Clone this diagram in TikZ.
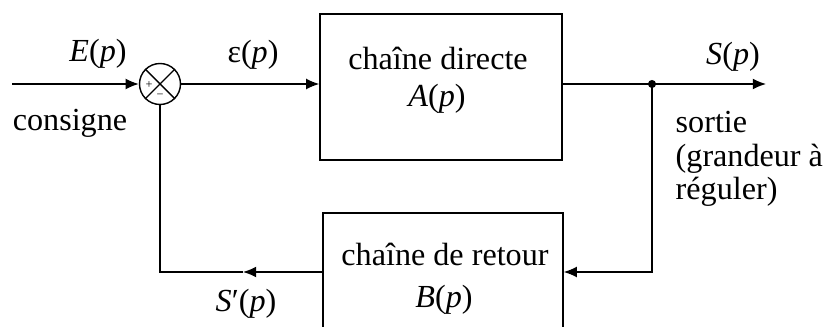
\documentclass[tikz,border=0pt]{standalone}
\usepackage{fontspec}
\setmainfont{Liberation Serif}
\usetikzlibrary{arrows.meta}

\begin{document}
\begin{tikzpicture}[x=0.02cm, y=-0.02cm, >={Latex[length=7.5pt,width=6.2pt]},
  line width=0.8pt,
  every node/.style={font=\fontsize{18.3}{19}\selectfont},
  bloc/.style={draw, inner sep=0pt, minimum width=4.84cm, minimum height=2.92cm},
  lbl/.style={anchor=base, inner sep=0pt},
  lblw/.style={anchor=base west, inner sep=0pt},
  signe/.style={inner sep=0pt, font=\fontsize{7}{7}\selectfont}]
\useasboundingbox (0,0) rectangle (827,327);
\clip (0,0) rectangle (827,327);

% comparateur et blocs
\node[draw, circle, inner sep=0pt, minimum size=0.82cm] (sum) at (160,84) {};
\draw (sum.north west) -- (sum.south east);
\draw (sum.north east) -- (sum.south west);
\node[signe] (plus) at (149,85) {+};
\node[signe] (moins) at (160,96) {−};

\node[bloc] (directe) at (441,87) {};
\node[bloc, minimum width=4.8cm] (retour) at (443,286) {};

\node[lbl] (dirtxt) at (438,70) {chaîne directe};
\node[lbl] (dirA) at (437,107) {\textit{A}(\textit{p})};
\node[lbl] (rettxt) at (445,265) {chaîne de retour};
\node[lbl] (retB) at (444,307) {\textit{B}(\textit{p})};

\coordinate (in) at (12,84);
\coordinate (out) at (766,84);
\coordinate (branch) at (652,84);
\coordinate (fb) at (652,272);
\coordinate (fbl) at (160,272);
\coordinate (tip) at (243,272);

% liaisons
\draw[->] (in) -- (sum.west);
\draw[->] (sum.east) -- (sum.east -| directe.west);
\draw[->] (directe.east |- sum) -- (out);
\fill (branch) circle (2.3pt);
\draw[->] (branch) -- (fb) -- (fb -| retour.east);
\draw[->] (fb -| retour.west) -- (tip);
\draw (tip) -- (fbl) -- (sum.south);

% grandeurs
\node[lbl] (E) at (98,62) {\textit{E}(\textit{p})};
\node[lbl] (eps) at (253,63) {ε(\textit{p})};
\node[lbl] (S) at (733,65) {\textit{S}(\textit{p})};
\node[lbl] (Sp) at (246,311) {\textit{S}′(\textit{p})};
\node[lbl] (consigne) at (70,131) {consigne};
\node[lblw] (sortie) at (675,133) {sortie};
\node[lblw] (grandeur) at (675,167) {(grandeur à};
\node[lblw] (reguler) at (675,200) {réguler)};
\end{tikzpicture}
\end{document}
